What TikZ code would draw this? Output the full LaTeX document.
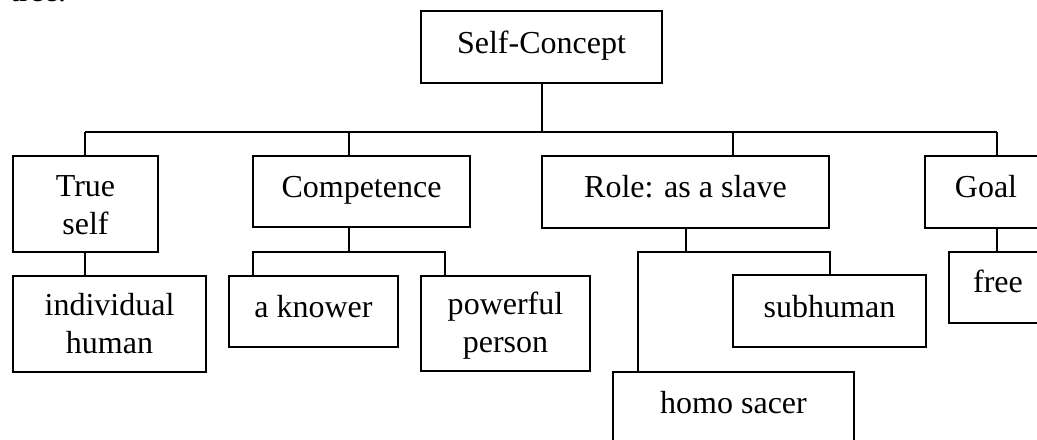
\documentclass[tikz,border=0pt]{standalone}
\usepackage{fontspec}
\setmainfont{Liberation Serif}
\usetikzlibrary{fit}
\tikzset{
  box/.style={draw, line width=1.4pt, inner sep=0pt, fill=none},
  txt/.style={anchor=base, inner sep=0pt, align=center, font=\fontsize{24}{28}\selectfont},
  fragtxt/.style={anchor=base west, inner sep=0pt, font=\fontsize{24}{28}\selectfont},
  conn/.style={line width=1.4pt},
}
\begin{document}
\begin{tikzpicture}[x=0.75pt,y=-0.75pt]
\useasboundingbox (0,0) rectangle (1037,439);
\clip (0,0) rectangle (1037,439);
\fill[white] (0,0) rectangle (1037,439);
% fragment of text above the figure (cut off at the top edge)
\node[fragtxt] (frag) at (10,2) {tree.};
% boxes
\node[box, fit={(421,11) (662,83)}] (sc) {};
\node[box, fit={(13,156) (158,252)}] (ts) {};
\node[box, fit={(253,156) (470,227)}] (comp) {};
\node[box, fit={(542,156) (829,228)}] (role) {};
\node[box, fit={(925,156) (1047,228)}] (goal) {};
\node[box, fit={(13,276) (206,372)}] (ih) {};
\node[box, fit={(229,276) (398,347)}] (kn) {};
\node[box, fit={(421,276) (590,371)}] (pp) {};
\node[box, fit={(733,275) (926,347)}] (sub) {};
\node[box, fit={(613,372) (854,446)}] (hs) {};
\node[box, fit={(949,252) (1047,323)}] (free) {};
% texts (base anchor = baseline of the last line)
\node[txt] (sc-t) at (541.5,53) {Self-Concept};
\node[txt] (ts-t) at (85.5,234) {True\\self};
\node[txt] (comp-t) at (361.5,197) {Competence};
\node[txt] (role-t) at (685.5,197) {Role: as a slave};
\node[txt] (goal-t) at (986,197) {Goal};
\node[txt] (ih-t) at (109.5,353) {individual\\human};
\node[txt] (kn-t) at (313.5,317) {a knower};
\node[txt] (pp-t) at (505.5,352) {powerful\\person};
\node[txt] (sub-t) at (829.5,317) {subhuman};
\node[txt] (hs-t) at (733.5,413) {homo sacer};
\node[txt] (free-t) at (998,292) {free};
% bus coordinates
\coordinate (b0) at (542,132);
\coordinate (b1) at (85,132);
\coordinate (b2) at (349,132);
\coordinate (b3) at (733,132);
\coordinate (b4) at (997,132);
\coordinate (c0) at (349,252);
\coordinate (c1) at (253,252);
\coordinate (c2) at (445,252);
\coordinate (r0) at (686,252);
\coordinate (r1) at (638,252);
\coordinate (r2) at (830,252);
% connectors
\draw[conn] (sc.south -| b0) -- (b0);
\draw[conn] (b1) -- (b4);
\draw[conn] (b1) -- (b1 |- ts.north);
\draw[conn] (b2) -- (b2 |- comp.north);
\draw[conn] (b3) -- (b3 |- role.north);
\draw[conn] (b4) -- (b4 |- goal.north);
\draw[conn] (b1 |- ts.south) -- (b1 |- ih.north);
\draw[conn] (c0 |- comp.south) -- (c0);
\draw[conn] (c1 |- kn.north) -- (c1) -- (c2) -- (c2 |- pp.north);
\draw[conn] (r0 |- role.south) -- (r0);
\draw[conn] (r1 |- hs.north) -- (r1) -- (r2) -- (r2 |- sub.north);
\draw[conn] (b4 |- goal.south) -- (b4 |- free.north);
\end{tikzpicture}
\end{document}
